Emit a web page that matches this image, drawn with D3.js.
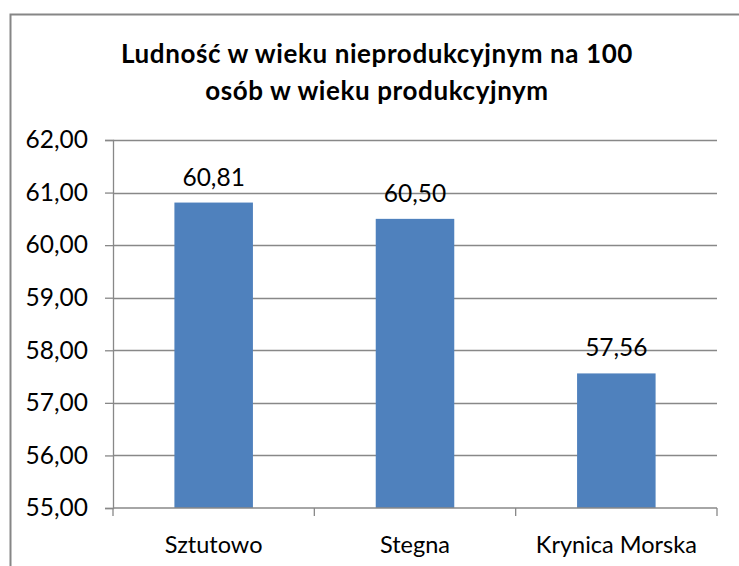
<!DOCTYPE html>
<html>
<head>
<meta charset="utf-8">
<script src="https://cdn.jsdelivr.net/npm/d3@7"></script>
<style>
    body { margin: 0; background: #fff; }
    svg { font-family: Lato, "Open Sans", sans-serif; }
</style>
</head>
<body>
<script>
// chart data
var categories = ["Sztutowo", "Stegna", "Krynica Morska"];
var values = [60.81, 60.50, 57.56];
var yTicks = [55, 56, 57, 58, 59, 60, 61, 62];
var titleLines = ["Ludność w wieku nieprodukcyjnym na 100", "osób w wieku produkcyjnym"];

var width = 739, height = 566;
var margin = {top: 140, right: 22, bottom: 58, left: 113};

var svg = d3.select("body").append("svg")
    .attr("width", width)
    .attr("height", height);

// outer frame, runs off the right and bottom like the source
svg.append("rect")
    .attr("x", 10.5)
    .attr("y", 14.5)
    .attr("width", 760)
    .attr("height", 600)
    .attr("fill", "none")
    .attr("stroke", "#868686")
    .attr("stroke-width", 2);

svg.append("g")
    .selectAll("text")
    .data(titleLines)
    .enter().append("text")
    .attr("x", 377)
    .attr("y", function(d, i) { return 63 + i * 37; })
    .attr("text-anchor", "middle")
    .style("font-weight", "bold")
    .style("font-size", "26px")
    .style("letter-spacing", "0.6px")
    .text(function(d) { return d; });

var x = d3.scaleBand()
    .domain(categories)
    .range([margin.left, width - margin.right])
    .paddingInner(0.61)
    .paddingOuter(0.305);

var y = d3.scaleLinear()
    .domain([55, 62])
    .range([height - margin.bottom, margin.top]);

var fmt = function(v) { return d3.format(".2f")(v).replace(".", ","); };

// gridlines
svg.append("g")
    .selectAll("line")
    .data(yTicks.slice(1))
    .enter().append("line")
    .attr("x1", margin.left)
    .attr("x2", width - margin.right)
    .attr("y1", function(d) { return Math.round(y(d)) + 0.5; })
    .attr("y2", function(d) { return Math.round(y(d)) + 0.5; })
    .attr("stroke", "#888")
    .attr("stroke-width", 1.3);

// y axis
var yAxis = svg.append("g")
    .attr("transform", "translate(" + margin.left + ",0)")
    .call(d3.axisLeft(y).tickValues(yTicks).tickFormat(fmt).tickSize(8).tickPadding(17));
yAxis.select(".domain").attr("stroke", "#888").attr("stroke-width", 1.3);
yAxis.selectAll(".tick line").attr("stroke", "#888").attr("stroke-width", 1.3);
yAxis.selectAll("text").style("font-size", "24.5px").attr("fill", "#000").style("font-family", "Lato, sans-serif");

// bars
svg.append("g")
    .selectAll("rect")
    .data(values)
    .enter().append("rect")
    .attr("x", function(d, i) { return x(categories[i]); })
    .attr("y", function(d) { return y(d); })
    .attr("width", x.bandwidth())
    .attr("height", function(d) { return y(55) - y(d); })
    .attr("fill", "#4f81bd");

// value labels
svg.append("g")
    .selectAll("text")
    .data(values)
    .enter().append("text")
    .attr("x", function(d, i) { return x(categories[i]) + x.bandwidth() / 2; })
    .attr("y", function(d) { return y(d) - 17; })
    .attr("text-anchor", "middle")
    .style("font-size", "24.5px")
    .text(fmt);

// x axis with ticks between categories
var step = x.step();
var xAxis = svg.append("g")
    .attr("transform", "translate(0," + y(55) + ")");
xAxis.append("line")
    .attr("x1", margin.left)
    .attr("x2", width - margin.right)
    .attr("stroke", "#888")
    .attr("stroke-width", 1.3);
xAxis.selectAll(".sep")
    .data(d3.range(categories.length + 1))
    .enter().append("line")
    .attr("x1", function(i) { return margin.left + i * step; })
    .attr("x2", function(i) { return margin.left + i * step; })
    .attr("y1", 0)
    .attr("y2", 8)
    .attr("stroke", "#888")
    .attr("stroke-width", 1.3);
xAxis.selectAll(".cat")
    .data(categories)
    .enter().append("text")
    .attr("x", function(d) { return x(d) + x.bandwidth() / 2; })
    .attr("y", 45)
    .attr("text-anchor", "middle")
    .style("font-size", "23.5px")
    .text(function(d) { return d; });
</script>
</body>
</html>
